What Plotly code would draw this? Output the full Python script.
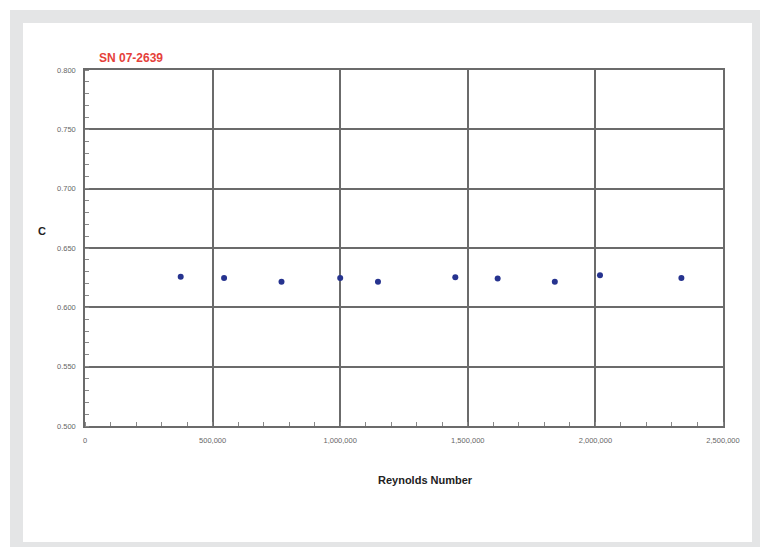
import plotly.graph_objects as go

# Data
reynolds = [375000, 545000, 770000, 1000000, 1148000, 1451000, 1617000, 1841000, 2018000, 2337000]
c_values = [0.6257, 0.6248, 0.6215, 0.6248, 0.6215, 0.6253, 0.6243, 0.6215, 0.6271, 0.6248]
y_ticks = [0.500, 0.550, 0.600, 0.650, 0.700, 0.750, 0.800]
x_ticks = [0, 500000, 1000000, 1500000, 2000000, 2500000]
x_tick_labels = ["0", "500,000", "1,000,000", "1,500,000", "2,000,000", "2,500,000"]
y_tick_labels = ["%.3f" % v for v in y_ticks]
title_text = "SN 07-2639"
x_title = "Reynolds Number"
y_title = "C"

W, H = 760, 547
ML, MR, MT, MB = 85, 37, 70, 121
PW = W - ML - MR
PH = H - MT - MB


def px(x):
    return (x - ML) / PW


def py(y):
    return (H - MB - y) / PH


fig = go.Figure()
fig.add_trace(go.Scatter(
    x=reynolds, y=c_values, mode="markers",
    marker=dict(symbol="circle", size=6, color="#26338f"),
    showlegend=False, hoverinfo="x+y",
))

fig.update_layout(
    width=W, height=H,
    margin=dict(l=ML, r=MR, t=MT, b=MB),
    paper_bgcolor="white",
    plot_bgcolor="rgba(0,0,0,0)",
    font=dict(family="Liberation Sans, Arial, sans-serif"),
    shapes=[
        dict(type="rect", xref="paper", yref="paper", layer="below",
             x0=px(10), x1=px(761), y0=py(548), y1=py(10),
             fillcolor="#e4e5e6", line=dict(width=0)),
        dict(type="rect", xref="paper", yref="paper", layer="below",
             x0=px(23), x1=px(752), y0=py(542), y1=py(23),
             fillcolor="white", line=dict(width=0)),
    ],
    annotations=[
        dict(text="<b>%s</b>" % title_text, xref="paper", yref="paper",
             x=px(97), y=py(58), xanchor="left", yanchor="middle", showarrow=False,
             font=dict(size=12, color="#e5413a")),
        dict(text="<b>%s</b>" % y_title, xref="paper", yref="paper",
             x=px(42), y=py(231), xanchor="center", yanchor="middle", showarrow=False,
             font=dict(size=11, color="#222")),
        dict(text="<b>%s</b>" % x_title, xref="paper", yref="paper",
             x=px(425), y=py(480), xanchor="center", yanchor="middle", showarrow=False,
             font=dict(size=11, color="#222")),
    ],
)

fig.update_xaxes(
    range=[0, 2500000], tickvals=x_ticks, ticktext=x_tick_labels,
    tickfont=dict(size=7.5, color="#666"),
    showgrid=True, gridcolor="#6b6b6b", gridwidth=1.5,
    showline=True, linecolor="#6b6b6b", linewidth=1.5, mirror=True,
    zeroline=False, ticks="", ticklabelstandoff=6,
    minor=dict(dtick=100000, ticks="inside", ticklen=4, tickcolor="#888", showgrid=False),
)
fig.update_yaxes(
    range=[0.5, 0.8], tickvals=y_ticks, ticktext=y_tick_labels,
    tickfont=dict(size=7.5, color="#666"),
    showgrid=True, gridcolor="#6b6b6b", gridwidth=1.5,
    showline=True, linecolor="#6b6b6b", linewidth=1.5, mirror=True,
    zeroline=False, ticks="", ticklabelstandoff=6,
    minor=dict(dtick=0.01, ticks="inside", ticklen=4, tickcolor="#888", showgrid=False),
)

fig.write_html(
    "out.html",
    config={"displayModeBar": False},
    post_script="document.body.style.margin='0';document.body.style.overflow='hidden';",
)
